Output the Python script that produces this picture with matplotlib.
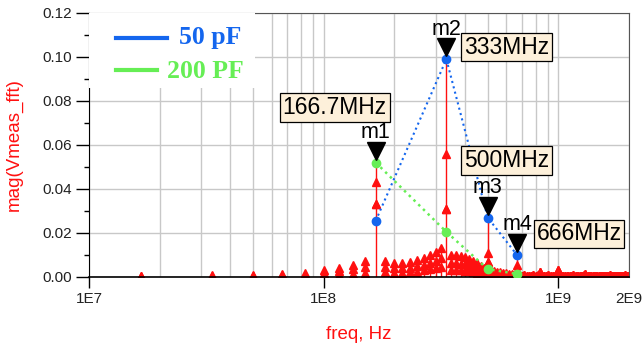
import numpy as np
import matplotlib
matplotlib.use('Agg')
from matplotlib import pyplot as plt
from matplotlib.ticker import LogLocator, MultipleLocator, NullFormatter, FormatStrFormatter
from matplotlib.transforms import offset_copy

# FFT bins: harmonics of 16.667 MHz up to 2 GHz
bin_step = 16.667e6
harm = np.arange(1, 121)

# red traces (other capacitance values), mV, bins 1..40
red_a = [0.5, 0.7, 1.0, 1.4, 1.8, 3.0, 4.2, 5.6, 7.2, 43,
         7.4, 6.4, 6.2, 6.6, 7.6, 8.6, 10.0, 11.5, 13.0, 56,
         10.0, 10.0, 9.5, 9.0, 8.2, 7.2, 6.2, 5.2, 4.2, 11,
         3.0, 2.7, 2.4, 2.1, 1.8, 1.6, 1.4, 1.2, 1.0, 5.5]
red_b = [0.3, 0.4, 0.6, 0.8, 1.0, 1.7, 2.6, 3.6, 4.6, 33,
         4.6, 4.0, 4.0, 4.2, 5.0, 5.6, 6.5, 7.5, 8.5, 31,
         6.5, 6.5, 6.0, 5.8, 5.2, 4.6, 4.0, 3.4, 2.8, 7,
         2.0, 1.8, 1.6, 1.4, 1.2, 1.0, 0.9, 0.8, 0.7, 3.0]
red_c = [0.2, 0.2, 0.3, 0.4, 0.5, 0.6, 1.0, 1.5, 2.0, 33,
         2.4, 2.0, 2.0, 2.2, 2.5, 3.0, 3.5, 4.0, 4.5, 31,
         3.0, 3.0, 3.0, 2.8, 2.6, 2.4, 2.0, 1.8, 1.5, 7,
         1.0, 0.9, 0.8, 0.7, 0.6, 0.5, 0.4, 0.4, 0.3, 3.0]
# noise floor, mV, bins 41..120
red_tail = [0.6, 0.5, 0.7, 0.4, 0.6, 0.5, 0.8, 0.6, 1.0, 2.2,
            0.6, 0.5, 0.4, 0.7, 0.5, 0.6, 0.4, 0.5, 0.8, 3.2,
            0.5, 0.4, 0.6, 0.5, 0.3, 0.6, 0.4, 0.5, 0.7, 0.4,
            0.5, 0.3, 0.6, 0.4, 0.5, 0.6, 0.8, 1.3, 0.5, 0.4,
            0.3, 0.5, 0.4, 0.6, 0.3, 0.4, 0.5, 0.3, 0.6, 0.4,
            0.5, 0.3, 0.4, 0.5, 0.3, 0.6, 0.4, 0.3, 0.5, 0.9,
            0.3, 0.4, 0.3, 0.5, 0.3, 0.4, 0.6, 0.3, 0.4, 0.3,
            0.5, 0.3, 0.4, 0.3, 0.8, 0.3, 0.4, 0.3, 0.5, 0.4]

# highlighted traces
main_freq = [166.7e6, 333.3e6, 500e6, 666.7e6]
blue_vals = [0.0256, 0.099, 0.027, 0.010]   # 50 pF
green_vals = [0.052, 0.0205, 0.0036, 0.0014]  # 200 pF

marker_names = ['m1', 'm2', 'm3', 'm4']
marker_series = ['green', 'blue', 'blue', 'blue']
marker_text = ['166.7MHz', '333MHz', '500MHz', '666MHz']
box_offset = [(-41, 55), (60, 12), (19, 57), (62, 21)]   # pixels

blue = '#1466ee'
green = '#66ee55'
red = '#ff1010'

freq = harm * bin_step
ra = np.array(red_a + red_tail) * 1e-3
rb = np.array(red_b + red_tail) * 1e-3
rc = np.array(red_c + red_tail) * 1e-3
top = np.maximum(ra, np.maximum(rb, rc))
for f, b, g in zip(main_freq, blue_vals, green_vals):
    i = np.argmin(abs(freq - f))
    top[i] = max(top[i], b, g)

fig = plt.figure(figsize=(6.42, 3.45), dpi=100)
ax = fig.add_axes([89/642, 1-277/345, 540/642, 264/345])
ax.set_xscale('log')
ax.set_xlim(1e7, 2e9)
ax.set_ylim(0, 0.12)

# red spectrum stems
ax.vlines(freq, 0, top, color=red, lw=1.0, zorder=2)
for r in (ra, rb, rc):
    ax.plot(freq, r, ls='none', marker='^', ms=5.5, color=red, mec=red, zorder=2)

ax.plot(main_freq, blue_vals, ls=':', lw=1.5, color=blue, marker='o', ms=6, zorder=3)
ax.plot(main_freq, green_vals, ls=':', lw=1.8, color=green, marker='o', ms=6, zorder=3)

# markers
for name, s, txt, off, f, b, g in zip(marker_names, marker_series, marker_text,
                                      box_offset, main_freq, blue_vals, green_vals):
    y = g if s == 'green' else b
    tr = offset_copy(ax.transData, fig=fig, x=0, y=12, units='dots')
    ax.plot([f], [y], marker='v', ms=13, color='black', transform=tr, zorder=6, clip_on=False)
    ax.annotate(name, (f, y), xytext=(0, 30), textcoords='offset pixels', ha='center',
                va='center', fontsize=15.5, family='Liberation Sans', zorder=6)
    ax.annotate(txt, (f, y), xytext=off, textcoords='offset pixels', ha='center', va='center',
                fontsize=16.5, family='Liberation Sans', zorder=7,
                bbox=dict(boxstyle='square,pad=0.12', fc='#fdf0da', ec='black', lw=0.9))

# legend box
ax.add_patch(plt.Rectangle((0, 0.716), 0.307, 0.284, transform=ax.transAxes,
                           fc='white', ec='none', zorder=4))
ax.plot([0.050, 0.144], [0.905, 0.905], transform=ax.transAxes, color=blue, lw=3, zorder=5)
ax.plot([0.050, 0.126], [0.784, 0.784], transform=ax.transAxes, color=green, lw=3, zorder=5)
ax.text(0.283, 0.909, '50 pF', transform=ax.transAxes, ha='right', va='center', color=blue,
        fontsize=18.5, fontweight='bold', family='Liberation Serif', zorder=5)
ax.text(0.287, 0.780, '200 PF', transform=ax.transAxes, ha='right', va='center', color=green,
        fontsize=18.5, fontweight='bold', family='Liberation Serif', zorder=5)

# axes styling
ax.set_xticks([1e7, 1e8, 1e9, 2e9])
ax.set_xticklabels(['1E7', '1E8', '1E9', '2E9'])
ax.xaxis.set_minor_locator(LogLocator(base=10, subs=np.arange(2, 10)))
ax.xaxis.set_minor_formatter(NullFormatter())
ax.xaxis.get_major_ticks()[-1].tick1line.set_visible(False)
ax.tick_params(axis='x', which='major', direction='out', length=8, width=1, pad=3, top=False)
ax.tick_params(axis='x', which='minor', length=0)
ax.yaxis.set_major_locator(MultipleLocator(0.02))
ax.yaxis.set_minor_locator(MultipleLocator(0.01))
ax.yaxis.set_major_formatter(FormatStrFormatter('%.2f'))
ax.tick_params(axis='y', which='major', direction='out', length=9.5, width=1, pad=3, right=False)
ax.tick_params(axis='y', which='minor', direction='out', length=3.6, width=1, right=False)
for lab in ax.get_xticklabels() + ax.get_yticklabels():
    lab.set_family('Liberation Sans')
    lab.set_fontsize(11)
    lab.set_color('#222222')

ax.grid(True, which='both', axis='x', color='#c8c8c8', lw=1.0, zorder=0)
ax.grid(True, which='major', axis='y', color='#c8c8c8', lw=1.0, zorder=0)
ax.set_axisbelow(True)
for side in ['top', 'right']:
    ax.spines[side].set_color('#555555')
ax.spines['left'].set_color('black')
ax.spines['bottom'].set_color('black')
ax.spines['bottom'].set_linewidth(1.2)

ax.set_xlabel('freq, Hz', color=red, fontsize=13.5, family='Liberation Sans', labelpad=14)
ax.set_ylabel('mag(Vmeas_fft)', color=red, fontsize=13.5, family='Liberation Sans', labelpad=14)

fig.savefig('out.png', dpi=100)
